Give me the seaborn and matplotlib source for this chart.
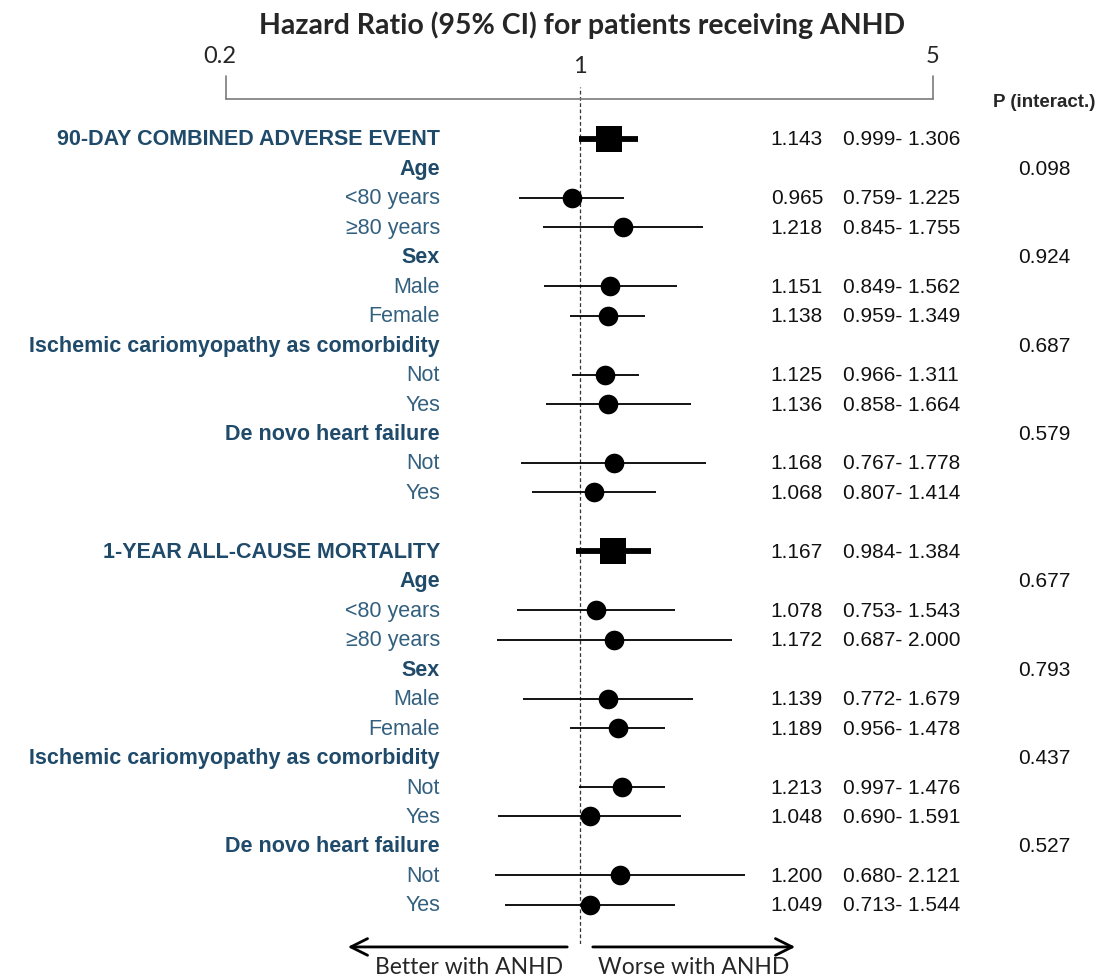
import numpy as np
import pandas as pd
import matplotlib.pyplot as plt
import matplotlib.transforms as mtransforms
import seaborn as sns

# ---- data ----
labels = ["90-DAY COMBINED ADVERSE EVENT", "Age", "<80 years", "≥80 years", "Sex", "Male", "Female",
          "Ischemic cariomyopathy as comorbidity", "Not", "Yes", "De novo heart failure", "Not", "Yes",
          "",
          "1-YEAR ALL-CAUSE MORTALITY", "Age", "<80 years", "≥80 years", "Sex", "Male", "Female",
          "Ischemic cariomyopathy as comorbidity", "Not", "Yes", "De novo heart failure", "Not", "Yes"]
kinds = ["main", "group", "sub", "sub", "group", "sub", "sub", "group", "sub", "sub", "group", "sub", "sub",
         "blank",
         "main", "group", "sub", "sub", "group", "sub", "sub", "group", "sub", "sub", "group", "sub", "sub"]
nan = np.nan
hr = [1.143, nan, 0.965, 1.218, nan, 1.151, 1.138, nan, 1.125, 1.136, nan, 1.168, 1.068,
      nan,
      1.167, nan, 1.078, 1.172, nan, 1.139, 1.189, nan, 1.213, 1.048, nan, 1.200, 1.049]
ci_low = [0.999, nan, 0.759, 0.845, nan, 0.849, 0.959, nan, 0.966, 0.858, nan, 0.767, 0.807,
          nan,
          0.984, nan, 0.753, 0.687, nan, 0.772, 0.956, nan, 0.997, 0.690, nan, 0.680, 0.713]
ci_high = [1.306, nan, 1.225, 1.755, nan, 1.562, 1.349, nan, 1.311, 1.664, nan, 1.778, 1.414,
           nan,
           1.384, nan, 1.543, 2.000, nan, 1.679, 1.478, nan, 1.476, 1.591, nan, 2.121, 1.544]
p_interact = [nan, 0.098, nan, nan, 0.924, nan, nan, 0.687, nan, nan, 0.579, nan, nan,
              nan,
              nan, 0.677, nan, nan, 0.793, nan, nan, 0.437, nan, nan, 0.527, nan, nan]
x_ticks = [0.2, 1, 5]
x_tick_labels = ["0.2", "1", "5"]

df = pd.DataFrame({"label": labels, "kind": kinds, "hr": hr, "lo": ci_low, "hi": ci_high, "p": p_interact})
df["row"] = np.arange(len(df))

sns.set_style("white")
plt.rcParams['font.family'] = ['Liberation Sans', 'DejaVu Sans']
title_font = ['Lato', 'DejaVu Sans']

BOLD_BLUE = '#1f4a6a'
SUB_BLUE = '#33607f'
LABEL_SIZE = 15.5
NUM_SIZE = 15

fig = plt.figure(figsize=(11.04, 9.79), dpi=100)
ax = fig.add_axes([226 / 1104, 1 - 945 / 979, 707 / 1104, (945 - 88) / 979])
ax.set_xscale('log')
ax.set_xlim(0.2, 5)
ax.set_ylim(27.33, -1.765)
for s in ax.spines.values():
    s.set_visible(False)
ax.set_xticks([])
ax.set_yticks([])
ax.minorticks_off()

# reference line at 1
ax.axvline(1, color='#333333', lw=0.9, ls=(0, (3, 2)), zorder=1)

# top scale
y_axis = -1.358
ax.plot([0.2, 5], [y_axis, y_axis], color='#7a7a7a', lw=1.2, clip_on=False)
ax.plot([0.2, 0.2], [-2.14, y_axis], color='#7a7a7a', lw=1.2, clip_on=False)
ax.plot([5, 5], [-2.14, y_axis], color='#7a7a7a', lw=1.2, clip_on=False)
for t, lab in zip(x_ticks, x_tick_labels):
    yy = -2.48 if lab == "1" else -2.82
    xx = t * 0.97 if lab == "0.2" else t
    ax.text(xx, yy, lab, ha='center', va='center', fontsize=17, family=title_font, clip_on=False)

# CI lines and point estimates
est = df.dropna(subset=["hr"])
main = est[est.kind == "main"]
sub = est[est.kind == "sub"]
ax.hlines(main.row, main.lo, main.hi, color='black', lw=4.2, zorder=2)
ax.hlines(sub.row, sub.lo, sub.hi, color='black', lw=1.3, zorder=2)
sns.scatterplot(data=main, x="hr", y="row", marker='s', s=340, color='black', edgecolor='black',
                linewidth=0, ax=ax, zorder=3, legend=False)
sns.scatterplot(data=sub, x="hr", y="row", marker='o', s=200, color='black', edgecolor='black',
                linewidth=0, ax=ax, zorder=3, legend=False)
ax.set_xlabel('')
ax.set_ylabel('')

# text columns
trans = mtransforms.blended_transform_factory(ax.transAxes, ax.transData)
x_label = (440 - 226) / 707
x_hr = (823 - 226) / 707
x_ci = (843 - 226) / 707
x_p = (1044 - 226) / 707
for _, r in df.iterrows():
    if r.kind == "blank":
        continue
    if r.kind == "sub":
        ax.text(x_label, r.row, r.label, transform=trans, ha='right', va='center', fontsize=LABEL_SIZE,
                color=SUB_BLUE, clip_on=False)
    else:
        ax.text(x_label, r.row, r.label, transform=trans, ha='right', va='center', fontsize=LABEL_SIZE,
                color=BOLD_BLUE, fontweight='bold', clip_on=False)
    if not np.isnan(r.hr):
        ax.text(x_hr, r.row, f"{r.hr:.3f}", transform=trans, ha='right', va='center', fontsize=NUM_SIZE,
                color='#111111', clip_on=False)
        ax.text(x_ci, r.row, f"{r.lo:.3f}- {r.hi:.3f}", transform=trans, ha='left', va='center',
                fontsize=NUM_SIZE, color='#111111', clip_on=False)
    if not np.isnan(r.p):
        ax.text(x_p, r.row, f"{r.p:.3f}", transform=trans, ha='center', va='center', fontsize=NUM_SIZE,
                color='#111111', clip_on=False)

ax.text((1044 - 226) / 707, -1.256, "P (interact.)", transform=trans, ha='center', va='center',
        fontsize=13.5, fontweight='bold', clip_on=False)

# title
fig.text(582 / 1104, 1 - 25 / 979, "Hazard Ratio (95% CI) for patients receiving ANHD", ha='center',
         va='center', fontsize=20.5, fontweight='bold', family=title_font)

# direction arrows
y_arrow = 27.43
ax.annotate('', xy=((345 - 226) / 707, y_arrow), xytext=((570 - 226) / 707, y_arrow),
            xycoords=trans, textcoords=trans,
            arrowprops=dict(arrowstyle='->', color='black', lw=2, mutation_scale=30))
ax.annotate('', xy=((798 - 226) / 707, y_arrow), xytext=((590 - 226) / 707, y_arrow),
            xycoords=trans, textcoords=trans,
            arrowprops=dict(arrowstyle='->', color='black', lw=2, mutation_scale=30))
fig.text(469 / 1104, 1 - 968 / 979, "Better with ANHD", ha='center', va='center', fontsize=16.5,
         family=title_font)
fig.text(694 / 1104, 1 - 968 / 979, "Worse with ANHD", ha='center', va='center', fontsize=16.5,
         family=title_font)

fig.savefig('out.png', dpi=100, facecolor='white')
